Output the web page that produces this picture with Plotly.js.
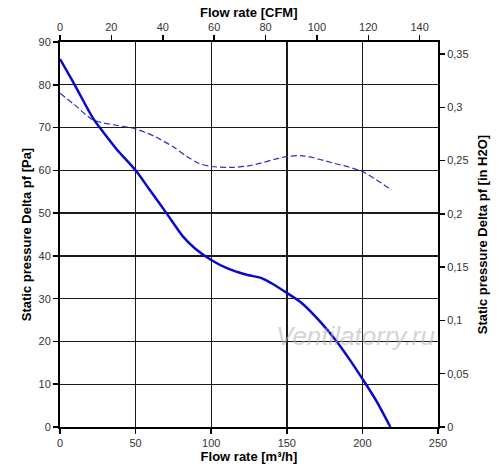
<!DOCTYPE html>
<html>
<head>
<meta charset="utf-8">
<script src="https://cdn.plot.ly/plotly-3.0.1.min.js"></script>
<style>html,body{margin:0;padding:0;background:#fff;}#chart{width:500px;height:473px;}</style>
</head>
<body>
<div id="chart"></div>
<script>
// Flow rate [m3/h] and static pressure [Pa] - solid curve
var flowSolid = [0, 9.7, 21.8, 26.3, 37.3, 50, 59.4, 70.4, 81.4, 89.1, 99.7, 111.2, 122.2, 133.3, 139.9, 150.2, 159.8, 171.9, 183, 191.7, 200.5, 209.4, 218.5];
var pressSolid = [86, 80, 72.2, 70, 65, 60, 55.4, 50, 44.5, 41.8, 39.1, 37.0, 35.7, 34.8, 33.6, 31.3, 29.0, 24.7, 20, 15.7, 11.0, 6.0, 0];
// dashed curve
var flowDash = [0, 9.7, 21.8, 36.2, 50, 62.7, 74.8, 83.6, 92, 100.2, 114.5, 125.5, 149.8, 160.8, 180.7, 200, 219.3];
var pressDash = [78, 75.3, 71.8, 70.6, 69.7, 67.9, 65.5, 63.3, 61.6, 60.9, 60.7, 61.1, 63.2, 63.4, 61.7, 59.7, 55.4];
// tick labels
var bottomTicks = [0, 50, 100, 150, 200, 250];
var topTicks = [0, 20, 40, 60, 80, 100, 120, 140];
var leftTicks = [0, 10, 20, 30, 40, 50, 60, 70, 80, 90];
var rightTicks = [0, 0.05, 0.1, 0.15, 0.2, 0.25, 0.3, 0.35];
var rightTickText = ['0', '0,05', '0,1', '0,15', '0,2', '0,25', '0,3', '0,35'];
// unit conversions for secondary axes
var M3H_PER_CFM = 1.699;
var PA_PER_INH2O = 249.09;

var tickFont = {family: 'Liberation Sans, Arial, sans-serif', size: 11, color: '#333'};
var titleFont = {family: 'Liberation Sans, Arial, sans-serif', size: 13, color: '#000', weight: 'bold'};

var traces = [
  {x: flowSolid.map(function(v){return v / M3H_PER_CFM;}), y: pressSolid.map(function(v){return v / PA_PER_INH2O;}),
   xaxis: 'x2', yaxis: 'y2', mode: 'lines', line: {color: 'rgba(0,0,0,0)', width: 0}, hoverinfo: 'skip'},
  {x: flowDash, y: pressDash, mode: 'lines', line: {color: '#2b2bd0', width: 1.2, dash: '6px,3px', shape: 'spline', smoothing: 0.8}, hoverinfo: 'skip'},
  {x: flowSolid, y: pressSolid, mode: 'lines', line: {color: '#0a0acc', width: 2.5, shape: 'spline', smoothing: 0.8}, hoverinfo: 'skip'}
];

var layout = {
  width: 500, height: 473,
  margin: {l: 60, r: 62, t: 42, b: 46, pad: 0},
  paper_bgcolor: '#fff', plot_bgcolor: '#fff',
  showlegend: false,
  xaxis: {
    range: [0, 250], tickvals: bottomTicks, ticks: 'outside', ticklen: 5, tickwidth: 1.5, tickcolor: '#000',
    showline: true, linecolor: '#000', linewidth: 2, showgrid: true, gridcolor: '#1a1a1a', gridwidth: 1.4,
    zeroline: false, tickfont: tickFont,
    title: {text: 'Flow rate [m³/h]', font: titleFont, standoff: 4}
  },
  xaxis2: {
    overlaying: 'x', side: 'top', anchor: 'y', range: [0, 147.14], tickvals: topTicks, ticks: 'outside', ticklen: 5, tickwidth: 1.5, tickcolor: '#000',
    showline: true, linecolor: '#000', linewidth: 2, showgrid: false, zeroline: false, tickfont: tickFont
  },
  yaxis: {
    range: [0, 90], tickvals: leftTicks, ticks: 'outside', ticklen: 5, tickwidth: 1.5, tickcolor: '#000',
    showline: true, linecolor: '#000', linewidth: 2, showgrid: true, gridcolor: '#1a1a1a', gridwidth: 1.4,
    zeroline: false, tickfont: tickFont,
    title: {text: 'Static pressure Delta pf [Pa]', font: titleFont, standoff: 4}
  },
  yaxis2: {
    overlaying: 'y', side: 'right', anchor: 'x', range: [0, 0.36132], tickvals: rightTicks, ticktext: rightTickText,
    ticks: 'outside', ticklen: 5, tickwidth: 1.5, tickcolor: '#000',
    showline: true, linecolor: '#000', linewidth: 2, showgrid: false, zeroline: false, tickfont: tickFont,
    title: {text: 'Static pressure Delta pf [in H2O]', font: titleFont, standoff: 10}
  },
  annotations: [
    {text: 'Flow rate [CFM]', xref: 'paper', yref: 'paper', x: 0.5, y: 1.0766, xanchor: 'center', yanchor: 'middle', showarrow: false,
     font: titleFont},
    {text: 'Ventilatorry.ru', xref: 'paper', yref: 'paper', x: 0.783, y: 0.237, xanchor: 'center', yanchor: 'middle', showarrow: false,
     font: {family: 'Liberation Sans, Arial, sans-serif', size: 26, color: 'rgba(175,175,175,0.55)', style: 'italic'}}
  ]
};

Plotly.newPlot('chart', traces, layout, {displayModeBar: false, staticPlot: true});
</script>
</body>
</html>
